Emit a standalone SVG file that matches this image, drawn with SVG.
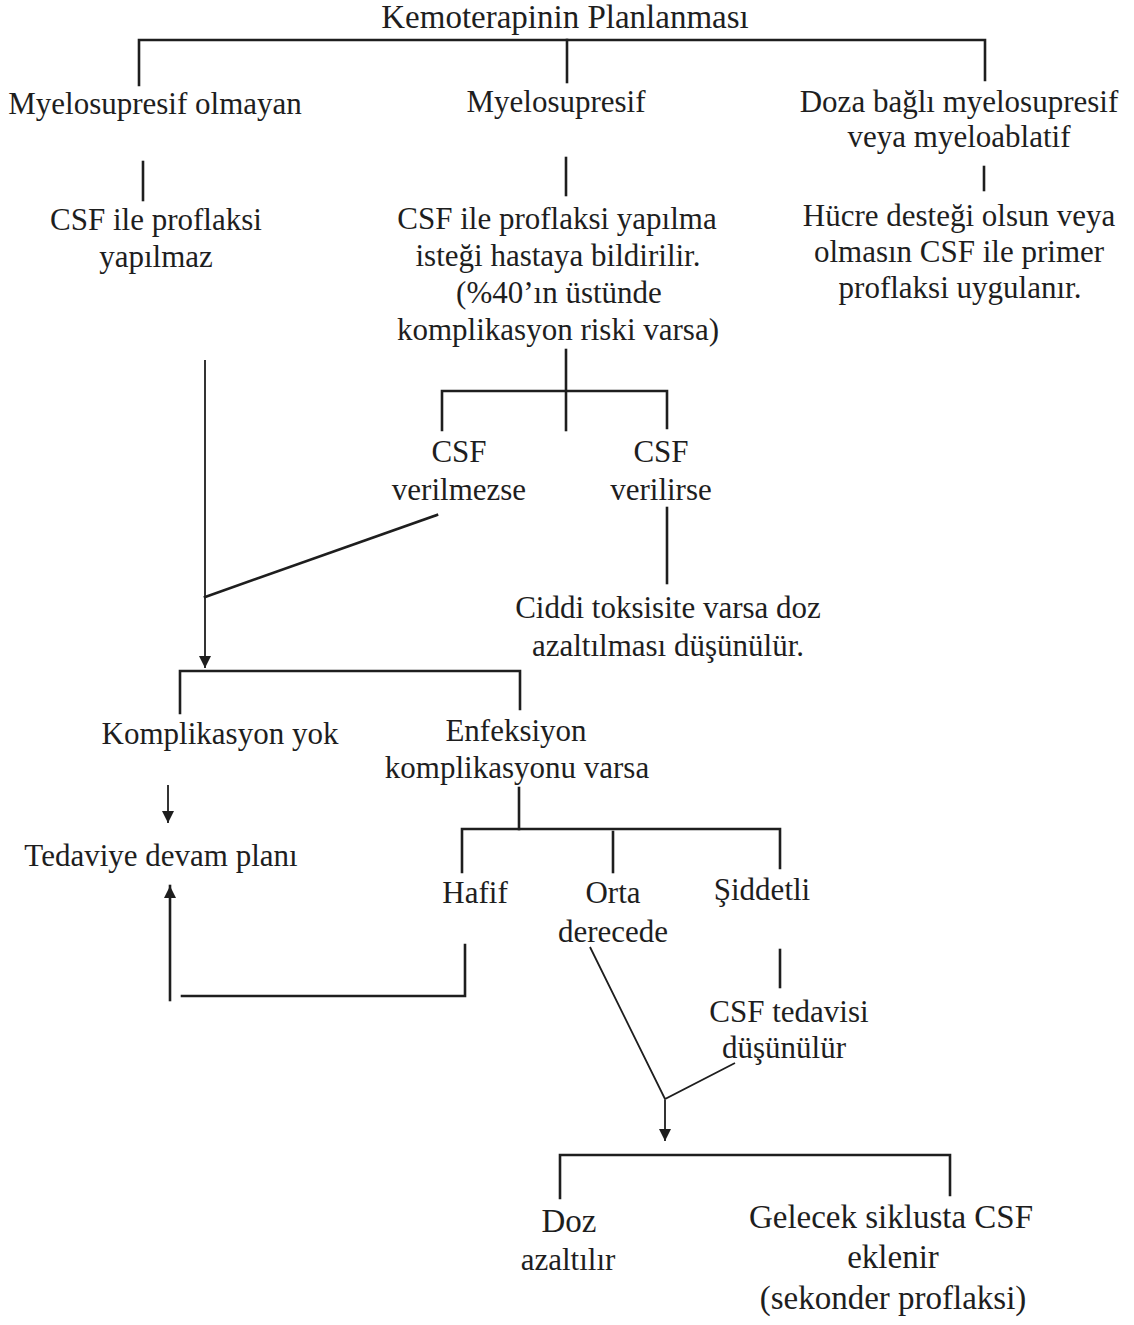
<svg xmlns="http://www.w3.org/2000/svg" width="1134" height="1325" viewBox="0 0 1134 1325">
<defs>
<style>
text{font-family:"Liberation Serif","Times New Roman",serif;font-size:31px;fill:#1e1e1e;text-anchor:middle}
.big{font-size:33px}
.ln{fill:none;stroke:#1e1e1e;stroke-width:2.6;stroke-linecap:square;stroke-linejoin:miter}
.thin{fill:none;stroke:#1e1e1e;stroke-width:1.8}
</style>
<marker id="ah" markerUnits="userSpaceOnUse" markerWidth="12" markerHeight="12" refX="10" refY="5" orient="auto" viewBox="0 0 10 10">
<path d="M0,0 L10,5 L0,10 z" fill="#1e1e1e"/>
</marker>
</defs>
<rect width="1134" height="1325" fill="#ffffff"/>

<g id="connectors">
<path class="ln" d="M139,85 V40 H985 V80"/>
<path class="ln" d="M567,40 V82"/>
<path class="ln" d="M143,162 V200"/>
<path class="ln" d="M566,158 V195"/>
<path class="ln" d="M984,167 V190"/>
<path class="thin" d="M205,360 V668" marker-end="url(#ah)"/>
<path class="ln" d="M566,350 V430"/>
<path class="ln" d="M442,430 V391 H667 V428"/>
<path class="ln" d="M437,515 L205,597"/>
<path class="ln" d="M667,508 V583"/>
<path class="ln" d="M180,713 V671 H520 V709"/>
<path class="thin" d="M168,785 V823" marker-end="url(#ah)"/>
<path class="ln" d="M170,1000 V886" marker-end="url(#ah)"/>
<path class="ln" d="M182,996 H465 V945"/>
<path class="ln" d="M519,788 V829"/>
<path class="ln" d="M462,872 V829 H780 V868"/>
<path class="ln" d="M613,832 V872"/>
<path class="ln" d="M780,950 V987"/>
<path class="thin" d="M590,947 L665,1099 L735,1063"/>
<path class="thin" d="M665,1100 V1141" marker-end="url(#ah)"/>
<path class="ln" d="M560,1198 V1155 H950 V1195"/>
</g>

<g id="n-title"><text class="big" x="565" y="28">Kemoterapinin Planlanması</text></g>
<g id="n-nonmyelo"><text x="155" y="114">Myelosupresif olmayan</text></g>
<g id="n-myelo"><text x="556" y="112">Myelosupresif</text></g>
<g id="n-doza"><text x="959" y="112">Doza bağlı myelosupresif</text><text x="959" y="147">veya myeloablatif</text></g>
<g id="n-noprof"><text x="156" y="230">CSF ile proflaksi</text><text x="156" y="267">yapılmaz</text></g>
<g id="n-prof"><text x="557" y="229">CSF ile proflaksi yapılma</text><text x="558" y="266">isteği hastaya bildirilir.</text><text x="559" y="303">(%40’ın üstünde</text><text x="558" y="340">komplikasyon riski varsa)</text></g>
<g id="n-primer"><text x="959" y="226">Hücre desteği olsun veya</text><text x="959" y="262">olmasın CSF ile primer</text><text x="960" y="298">proflaksi uygulanır.</text></g>
<g id="n-verilmezse"><text x="459" y="462">CSF</text><text x="459" y="500">verilmezse</text></g>
<g id="n-verilirse"><text x="661" y="462">CSF</text><text x="661" y="500">verilirse</text></g>
<g id="n-ciddi"><text x="668" y="618">Ciddi toksisite varsa doz</text><text x="668" y="656">azaltılması düşünülür.</text></g>
<g id="n-yok"><text x="220" y="744">Komplikasyon yok</text></g>
<g id="n-enf"><text x="516" y="741">Enfeksiyon</text><text x="517" y="778">komplikasyonu varsa</text></g>
<g id="n-tedavi"><text x="161" y="866">Tedaviye devam planı</text></g>
<g id="n-hafif"><text x="475" y="903">Hafif</text></g>
<g id="n-orta"><text x="613" y="903">Orta</text><text x="613" y="942">derecede</text></g>
<g id="n-siddetli"><text x="762" y="900">Şiddetli</text></g>
<g id="n-csftedavi"><text x="789" y="1022">CSF tedavisi</text><text x="784" y="1058">düşünülür</text></g>
<g id="n-doz"><text class="big" x="569" y="1232">Doz</text><text x="568" y="1270">azaltılır</text></g>
<g id="n-gelecek"><text class="big" x="891" y="1228">Gelecek siklusta CSF</text><text class="big" x="893" y="1268">eklenir</text><text class="big" x="893" y="1309">(sekonder proflaksi)</text></g>
</svg>
